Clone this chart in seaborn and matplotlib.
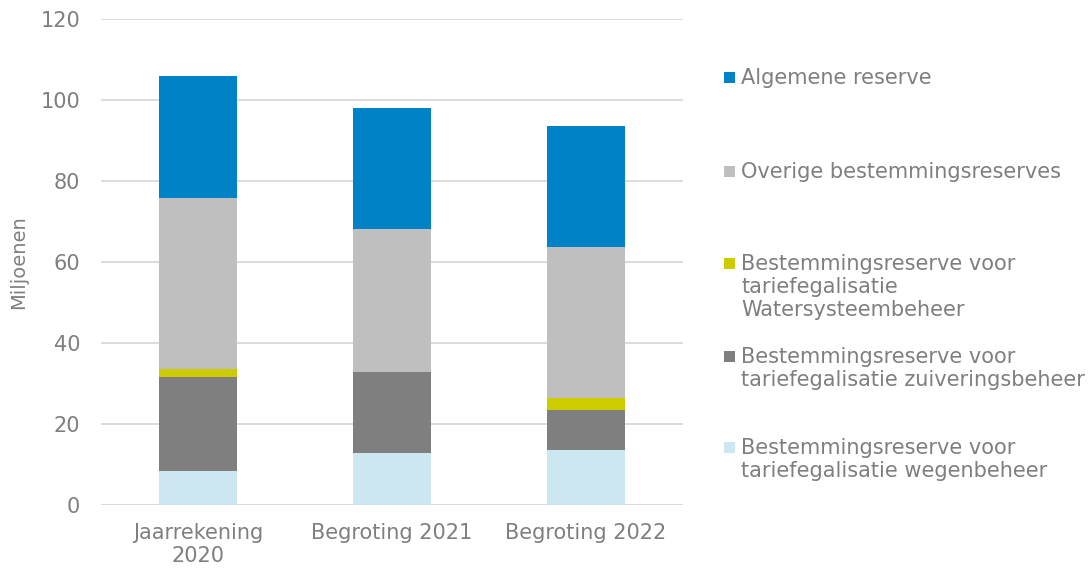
import matplotlib
matplotlib.use("Agg")
import matplotlib.pyplot as plt
import matplotlib.patches as mpatches
import numpy as np
import pandas as pd
import seaborn as sns

categories = ["Jaarrekening\n2020", "Begroting 2021", "Begroting 2022"]

# stacked from bottom to top
series_names = [
    "Bestemmingsreserve voor\ntariefegalisatie wegenbeheer",
    "Bestemmingsreserve voor\ntariefegalisatie zuiveringsbeheer",
    "Bestemmingsreserve voor\ntariefegalisatie\nWatersysteembeheer",
    "Overige bestemmingsreserves",
    "Algemene reserve",
]
wegenbeheer = [8.3, 12.8, 13.6]
zuiveringsbeheer = [23.4, 20.0, 9.9]
watersysteembeheer = [2.0, -0.3, 2.8]
overige = [42.0, 35.3, 37.3]
algemene = [30.2, 30.0, 29.9]

colors = ["#CCE6F2", "#7F7F7F", "#CCCC00", "#BFBFBF", "#0082C6"]
text_color = "#7F7F7F"

sns.set_theme(style="white")
plt.rcParams["font.family"] = ["DejaVu Sans"]

fig = plt.figure(figsize=(10.91, 5.69), dpi=100)
ax = fig.add_axes([101 / 1091, 64 / 569, 582 / 1091, 486 / 569])

all_series = [wegenbeheer, zuiveringsbeheer, watersysteembeheer, overige, algemene]
pos_base = np.zeros(len(categories))
neg_base = np.zeros(len(categories))
for name, vals, col in zip(series_names, all_series, colors):
    vals = np.array(vals, dtype=float)
    bottom = np.where(vals >= 0, pos_base, neg_base)
    df = pd.DataFrame({"cat": categories, "val": vals})
    sns.barplot(data=df, x="cat", y="val", bottom=bottom, color=col,
                width=0.4, errorbar=None, saturation=1, ax=ax, zorder=3,
                linewidth=0)
    pos_base += np.where(vals >= 0, vals, 0)
    neg_base += np.where(vals < 0, vals, 0)

ax.set_xlim(-0.5, 2.5)
ax.set_ylim(0, 120)
ax.set_yticks(range(0, 121, 20))
ax.yaxis.grid(True, color="#D9D9D9", linewidth=1.3, zorder=0)
ax.set_axisbelow(True)
for s in ax.spines.values():
    s.set_visible(False)
ax.tick_params(axis="both", length=0, colors=text_color, labelsize=15)
ax.tick_params(axis="y", pad=15)
ax.tick_params(axis="x", pad=13)
ax.set_xlabel("")
ax.set_ylabel("Miljoenen", color=text_color, fontsize=14)
ax.yaxis.set_label_coords(-73 / 582, 0.5)

# legend on the right, entries placed like the original
legend_tops = [442, 351, 258, 166, 72]  # pixel y of each swatch top
for name, col, ytop in zip(series_names, colors, legend_tops):
    fig.patches.append(mpatches.Rectangle(
        (724 / 1091, 1 - (ytop + 11) / 569), 11 / 1091, 11 / 569,
        transform=fig.transFigure, facecolor=col, edgecolor="none"))
    fig.text(741 / 1091, 1 - (ytop - 4) / 569, name, color=text_color,
             fontsize=15, va="top", ha="left", linespacing=1.18)

fig.savefig("out.png", dpi=100)
